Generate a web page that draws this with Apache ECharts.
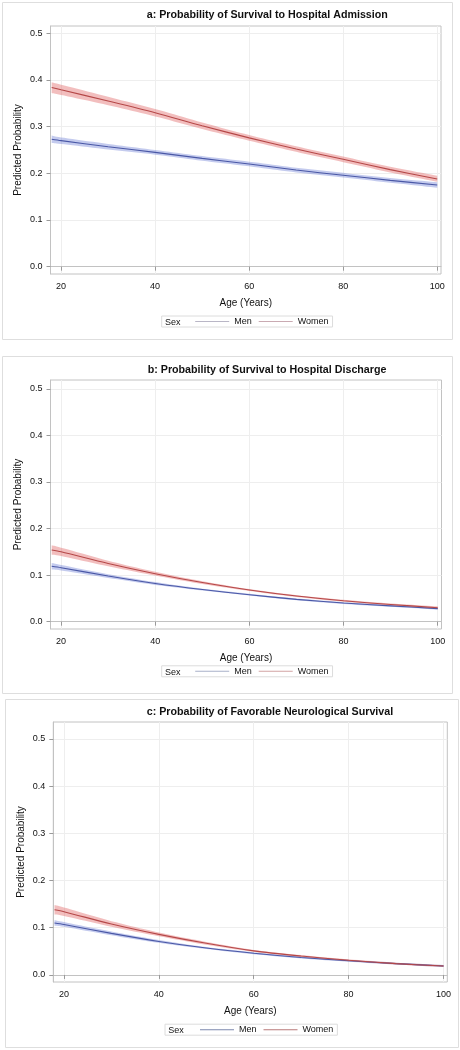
<!DOCTYPE html>
<html><head><meta charset="utf-8">
<script src="https://cdn.jsdelivr.net/npm/echarts@6/dist/echarts.min.js"></script>
<style>html,body{margin:0;padding:0;background:#fff}#c{width:460px;height:1050px}</style>
</head><body><div id="c"></div>
<script>
// ---------- data ----------
const ages = [18, 20, 30, 40, 50, 60, 70, 80, 90, 100];
const xTicks = [20, 40, 60, 80, 100];
const yTicks = [0, 0.1, 0.2, 0.3, 0.4, 0.5];
const titles = [
  'a: Probability of Survival to Hospital Admission',
  'b: Probability of Survival to Hospital Discharge',
  'c: Probability of Favorable Neurological Survival'
];
const xName = 'Age (Years)';
const yName = 'Predicted Probability';
const legendTitle = 'Sex';
const groupNames = ['Men', 'Women'];

// panel a
const menA     = [0.273, 0.270, 0.257, 0.245, 0.232, 0.220, 0.207, 0.196, 0.185, 0.175];
const menALo   = [0.265, 0.263, 0.251, 0.240, 0.227, 0.215, 0.202, 0.191, 0.180, 0.169];
const menAHi   = [0.281, 0.277, 0.263, 0.250, 0.237, 0.225, 0.212, 0.201, 0.190, 0.181];
const womenA   = [0.384, 0.379, 0.355, 0.330, 0.302, 0.276, 0.252, 0.230, 0.208, 0.188];
const womenALo = [0.372, 0.368, 0.346, 0.322, 0.295, 0.270, 0.246, 0.224, 0.202, 0.182];
const womenAHi = [0.395, 0.390, 0.364, 0.338, 0.309, 0.282, 0.258, 0.236, 0.214, 0.195];
// panel b
const menB     = [0.119, 0.116, 0.098, 0.082, 0.069, 0.058, 0.048, 0.040, 0.034, 0.028];
const menBLo   = [0.112, 0.110, 0.094, 0.079, 0.067, 0.056, 0.046, 0.038, 0.032, 0.026];
const menBHi   = [0.126, 0.122, 0.102, 0.085, 0.071, 0.060, 0.050, 0.042, 0.036, 0.030];
const womenB   = [0.154, 0.150, 0.125, 0.103, 0.084, 0.068, 0.055, 0.045, 0.037, 0.030];
const womenBLo = [0.144, 0.141, 0.119, 0.099, 0.081, 0.066, 0.053, 0.043, 0.035, 0.027];
const womenBHi = [0.164, 0.159, 0.131, 0.107, 0.087, 0.070, 0.057, 0.047, 0.039, 0.033];
// panel c
const menC     = [0.110, 0.107, 0.088, 0.071, 0.057, 0.046, 0.037, 0.030, 0.024, 0.019];
const menCLo   = [0.104, 0.102, 0.084, 0.068, 0.055, 0.044, 0.035, 0.028, 0.022, 0.017];
const menCHi   = [0.116, 0.112, 0.092, 0.074, 0.059, 0.048, 0.039, 0.032, 0.026, 0.021];
const womenC   = [0.138, 0.134, 0.108, 0.086, 0.067, 0.051, 0.040, 0.031, 0.024, 0.019];
const womenCLo = [0.128, 0.125, 0.102, 0.082, 0.064, 0.049, 0.038, 0.029, 0.022, 0.017];
const womenCHi = [0.148, 0.143, 0.114, 0.090, 0.070, 0.053, 0.042, 0.033, 0.026, 0.021];

// ---------- layout / style ----------
const F = '"Liberation Sans", Arial, sans-serif';
const panels = [
  {men: menA, menLo: menALo, menHi: menAHi, women: womenA, womenLo: womenALo, womenHi: womenAHi,
   box: [2, 2, 450, 337], grid: {left: 50.5, top: 26, width: 390.5, height: 248},
   ymin: -0.0157, ymax: 0.5157, titleX: 146.7, titleY: 10,
   legend: {left: 161.7, top: 316, padL: 33.5}, sexX: 165, legendColors: ['#b9b6c6', '#c9aab2']},
  {men: menB, menLo: menBLo, menHi: menBHi, women: womenB, womenLo: womenBLo, womenHi: womenBHi,
   box: [2, 356, 450, 337], grid: {left: 50.5, top: 380, width: 391, height: 249},
   ymin: -0.0157, ymax: 0.519, titleX: 147.7, titleY: 365,
   legend: {left: 161.7, top: 665.8, padL: 33.5}, sexX: 165, legendColors: ['#a9b1c9', '#d2a3a3']},
  {men: menC, menLo: menCLo, menHi: menCHi, women: womenC, womenLo: womenCLo, womenHi: womenCHi,
   box: [5, 699, 453, 348], grid: {left: 53.3, top: 722, width: 394, height: 260},
   ymin: -0.015, ymax: 0.536, titleX: 146.7, titleY: 706.5,
   legend: {left: 165, top: 1024.2, padL: 35}, sexX: 168.3, legendColors: ['#7c89ae', '#b87a7a']}
];
const menLine = '#4a58a6', womenLine = '#b54848';
const menBand = 'rgba(100,118,210,0.38)', womenBand = 'rgba(224,100,100,0.42)';

// sample a smooth (Catmull-Rom) curve through pixel points, for drawing only
function smoothPixels(pts) {
  const out = [pts[0]];
  for (let i = 0; i < pts.length - 1; i++) {
    const p0 = pts[Math.max(0, i - 1)], p1 = pts[i], p2 = pts[i + 1], p3 = pts[Math.min(pts.length - 1, i + 2)];
    const c1 = [p1[0] + (p2[0] - p0[0]) / 6, p1[1] + (p2[1] - p0[1]) / 6];
    const c2 = [p2[0] - (p3[0] - p1[0]) / 6, p2[1] - (p3[1] - p1[1]) / 6];
    for (let s = 1; s <= 10; s++) {
      const t = s / 10, u = 1 - t;
      out.push([
        u*u*u*p1[0] + 3*u*u*t*c1[0] + 3*u*t*t*c2[0] + t*t*t*p2[0],
        u*u*u*p1[1] + 3*u*u*t*c1[1] + 3*u*t*t*c2[1] + t*t*t*p2[1]
      ]);
    }
  }
  return out;
}

function bandSeries(i, name, lo, hi, color) {
  return {
    type: 'custom', name: name + ' 95% CL', xAxisIndex: i, yAxisIndex: i, silent: true, z: 1,
    data: [[ages[0], lo[0]]],
    renderItem: function (params, api) {
      const upper = smoothPixels(ages.map((a, k) => api.coord([a, hi[k]])));
      const lower = smoothPixels(ages.map((a, k) => api.coord([a, lo[k]])));
      return {type: 'polygon', shape: {points: upper.concat(lower.reverse())},
        style: {fill: color, stroke: null}};
    }
  };
}

const series = [];
panels.forEach((p, i) => {
  series.push(bandSeries(i, 'Men', p.menLo, p.menHi, menBand));
  series.push(bandSeries(i, 'Women', p.womenLo, p.womenHi, womenBand));
  series.push({type: 'line', name: groupNames[0], xAxisIndex: i, yAxisIndex: i,
    data: ages.map((a, k) => [a, p.men[k]]), symbol: 'none', smooth: 0.3,
    lineStyle: {color: menLine, width: 1.1}, itemStyle: {color: menLine}, z: 3});
  series.push({type: 'line', name: groupNames[1], xAxisIndex: i, yAxisIndex: i,
    data: ages.map((a, k) => [a, p.women[k]]), symbol: 'none', smooth: 0.3,
    lineStyle: {color: womenLine, width: 1.1}, itemStyle: {color: womenLine}, z: 3});
});

const axisLine = {show: true, lineStyle: {color: '#c2c2c2', width: 1}};
const option = {
  animation: false,
  backgroundColor: '#fff',
  textStyle: {fontFamily: F},
  title: panels.map((p, i) => ({text: titles[i], left: p.titleX, top: p.titleY, padding: 0,
    textStyle: {fontFamily: F, fontSize: 10.7, fontWeight: 'bold', color: '#111'}})),
  grid: panels.map(p => Object.assign({show: true, borderColor: '#c2c2c2', borderWidth: 1, backgroundColor: '#fff'}, p.grid)),
  xAxis: panels.map((p, i) => ({type: 'value', gridIndex: i, min: 17.75, max: 100.8, splitNumber: 5,
    name: xName, nameLocation: 'middle', nameGap: 24, nameMoveOverlap: false,
    nameTextStyle: {fontFamily: F, fontSize: 10, color: '#111'},
    axisLine: axisLine,
    axisTick: {show: true, length: 4, customValues: xTicks, lineStyle: {color: '#9a9a9a'}},
    axisLabel: {customValues: xTicks, margin: 8, fontSize: 9, color: '#111', fontFamily: F},
    splitLine: {show: true, lineStyle: {color: '#eeeeee', width: 1}}})),
  yAxis: panels.map((p, i) => ({type: 'value', gridIndex: i, min: p.ymin, max: p.ymax, splitNumber: 5,
    name: yName, nameLocation: 'middle', nameGap: 27, nameMoveOverlap: false,
    nameTextStyle: {fontFamily: F, fontSize: 10, color: '#111'},
    axisLine: axisLine,
    axisTick: {show: true, length: 4, customValues: yTicks, lineStyle: {color: '#9a9a9a'}},
    axisLabel: {customValues: yTicks, margin: 8, fontSize: 9, color: '#111', fontFamily: F,
      formatter: v => v.toFixed(1)},
    splitLine: {show: true, lineStyle: {color: '#eeeeee', width: 1}}})),
  legend: panels.map(p => ({
    left: p.legend.left, top: p.legend.top, orient: 'horizontal',
    padding: [1, 4, 1, p.legend.padL], borderColor: '#dcdcdc', borderWidth: 1, backgroundColor: '#fff',
    itemGap: 7, itemWidth: 34, itemHeight: 11, selectedMode: false,
    textStyle: {fontFamily: F, fontSize: 9, color: '#111'},
    data: groupNames.map((n, k) => ({name: n, icon: 'path://M0,5 L34,5 L34,6 L0,6 Z',
      itemStyle: {color: p.legendColors[k]}, lineStyle: {color: p.legendColors[k]}}))
  })),
  graphic: panels.map(p => ({type: 'rect', silent: true, z: -10,
      shape: {x: p.box[0] + 0.5, y: p.box[1] + 0.5, width: p.box[2], height: p.box[3]},
      style: {fill: null, stroke: '#dedede', lineWidth: 1}}))
    .concat(panels.map(p => ({type: 'text', silent: true, z: 100,
      x: p.sexX, y: p.legend.top + 6.5,
      style: {text: legendTitle, fontFamily: F, fontSize: 9, fill: '#111', verticalAlign: 'middle'}}))),
  series: series
};
const chart = echarts.init(document.getElementById('c'), null, {renderer: 'canvas'});
chart.setOption(option);
</script></body></html>
